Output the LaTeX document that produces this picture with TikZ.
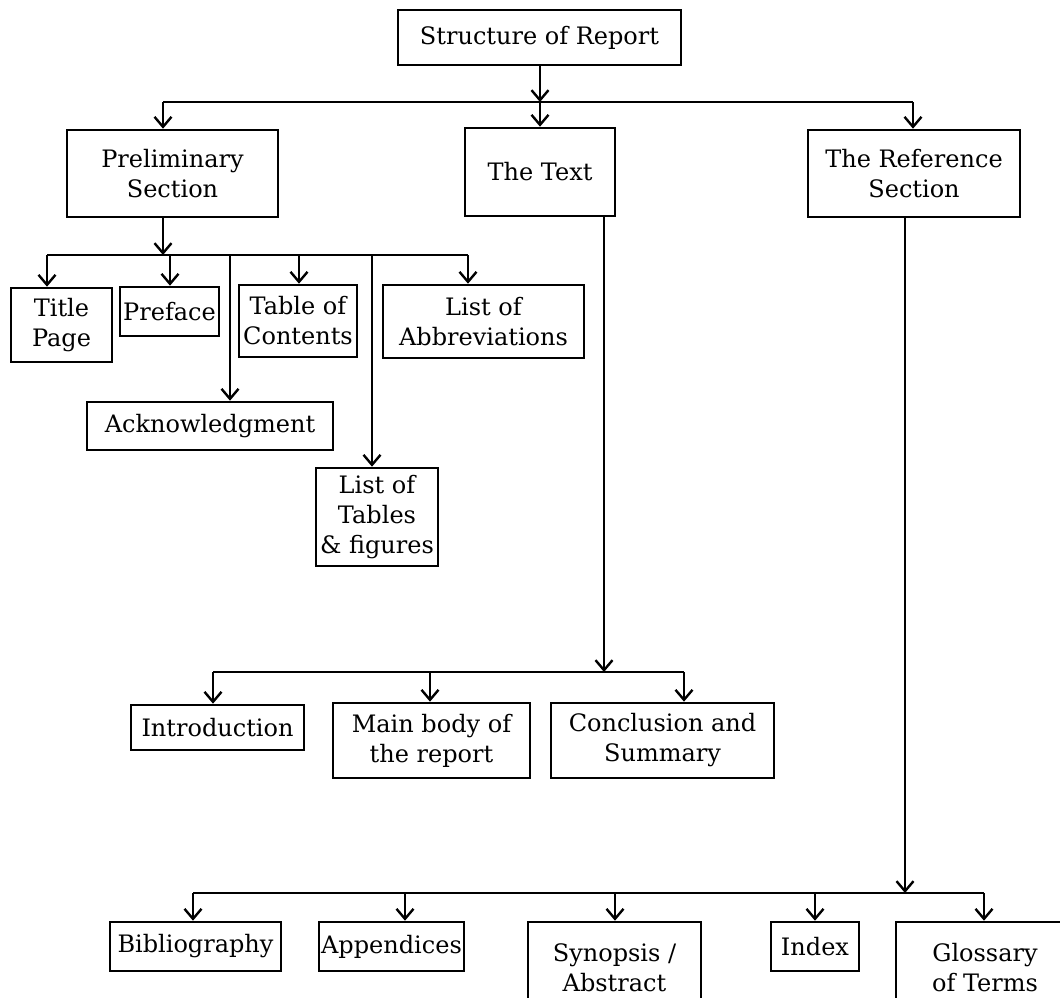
\documentclass[tikz,border=0pt]{standalone}
\usepackage{fontspec}
\setmainfont{DejaVu Serif}
\usetikzlibrary{arrows.meta}
\begin{document}
\begin{tikzpicture}[x=1pt,y=-1pt,
  box/.style={draw, line width=2.6pt, inner sep=0pt, align=center,
    font=\fontsize{24}{30}\selectfont},
  arr/.style={line width=2.6pt, -{Straight Barb[length=10pt,width=17pt,line width=2.4pt]}},
  bar/.style={line width=2.6pt}]
\useasboundingbox (0,0) rectangle (1060,998);
\clip (0,0) rectangle (1060,998);
% nodes
\node[box, minimum width=283, minimum height=55] (top) at (539.5,37.5) {Structure of Report};
\node[box, minimum width=211, minimum height=87] (prelim) at (172.5,173.5) {Preliminary\\Section};
\node[box, minimum width=150, minimum height=88] (text) at (540,172) {The Text};
\node[box, minimum width=212, minimum height=87] (ref) at (914,173.5) {The Reference\\Section};
\node[box, minimum width=101, minimum height=74] (title) at (61.5,325) {Title\\Page};
\node[box, minimum width=99, minimum height=49] (preface) at (169.5,311.5) {Preface};
\node[box, minimum width=118, minimum height=72] (toc) at (298,321) {Table of\\Contents};
\node[box, minimum width=201, minimum height=73] (abbr) at (483.5,321.5) {List of\\Abbreviations};
\node[box, minimum width=246, minimum height=48] (ack) at (210,426) {Acknowledgment};
\node[box, minimum width=122, minimum height=98] (lot) at (377,517) {List of\\Tables\\\& figures};
\node[box, minimum width=173, minimum height=45] (intro) at (217.5,727.5) {Introduction};
\node[box, minimum width=197, minimum height=75] (main) at (431.5,740.5) {Main body of\\the report};
\node[box, minimum width=223, minimum height=75] (concl) at (662.5,740.5) {Conclusion and\\Summary};
\node[box, minimum width=171, minimum height=49] (bib) at (195.5,946.5) {Bibliography};
\node[box, minimum width=145, minimum height=49] (app) at (391.5,946.5) {Appendices};
\node[box, minimum width=173, minimum height=92] (syn) at (614.5,968) {Synopsis /\\Abstract};
\node[box, minimum width=88, minimum height=49] (index) at (815,946.5) {Index};
\node[box, minimum width=178, minimum height=92] (gloss) at (985,968) {Glossary\\of Terms};
% level 1
\coordinate (c1) at (540,102);
\coordinate (c1l) at (163,102);
\coordinate (c1r) at (913,102);
\draw[arr] (c1 |- top.south) -- (c1);
\draw[bar] (c1l) -- (c1r);
\draw[arr] (c1l) -- (c1l |- prelim.north);
\draw[arr] (c1) -- (text.north);
\draw[arr] (c1r) -- (c1r |- ref.north);
% preliminary
\coordinate (p0) at (163,255);
\coordinate (p1) at (47,255);
\coordinate (p2) at (170,255);
\coordinate (p3) at (230,255);
\coordinate (p4) at (299,255);
\coordinate (p5) at (372,255);
\coordinate (p6) at (468,255);
\draw[arr] (p0 |- prelim.south) -- (p0);
\draw[bar] (p1) -- (p6);
\draw[arr] (p1) -- (p1 |- title.north);
\draw[arr] (p2) -- (p2 |- preface.north);
\draw[arr] (p3) -- (p3 |- ack.north);
\draw[arr] (p4) -- (p4 |- toc.north);
\draw[arr] (p5) -- (p5 |- lot.north);
\draw[arr] (p6) -- (p6 |- abbr.north);
% text
\coordinate (t0) at (604,672);
\coordinate (t1) at (213,672);
\coordinate (t2) at (430,672);
\coordinate (t3) at (684,672);
\draw[arr] (t0 |- text.south) -- (t0);
\draw[bar] (t1) -- (t3);
\draw[arr] (t1) -- (t1 |- intro.north);
\draw[arr] (t2) -- (t2 |- main.north);
\draw[arr] (t3) -- (t3 |- concl.north);
% reference
\coordinate (r0) at (905,893);
\coordinate (r1) at (193,893);
\coordinate (r2) at (405,893);
\coordinate (r3) at (615,893);
\coordinate (r4) at (815,893);
\coordinate (r5) at (984,893);
\draw[arr] (r0 |- ref.south) -- (r0);
\draw[bar] (r1) -- (r5);
\draw[arr] (r1) -- (r1 |- bib.north);
\draw[arr] (r2) -- (r2 |- app.north);
\draw[arr] (r3) -- (r3 |- syn.north);
\draw[arr] (r4) -- (r4 |- index.north);
\draw[arr] (r5) -- (r5 |- gloss.north);
\end{tikzpicture}
\end{document}
